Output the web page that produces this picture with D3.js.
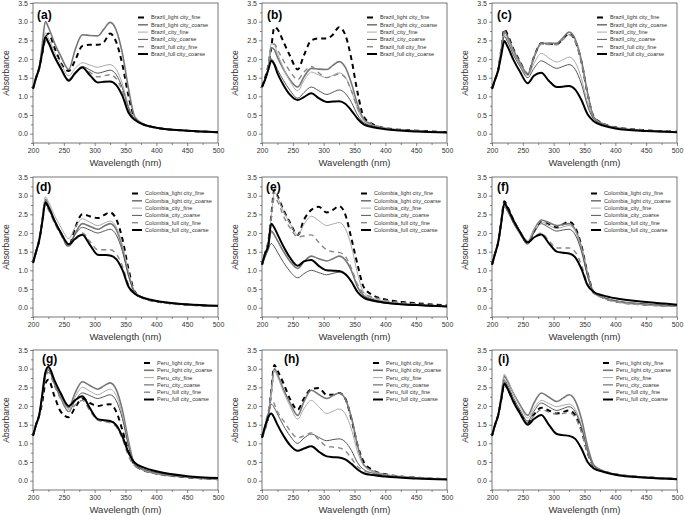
<!DOCTYPE html>
<html>
<head>
<meta charset="utf-8">
<script src="https://cdn.jsdelivr.net/npm/d3@7"></script>
<style>
  body { margin: 0; background: #fff; }
  text { font-family: "Liberation Sans", Arial, sans-serif; }
</style>
</head>
<body>
<div id="chart"></div>
<script>
// wavelength grid shared by every spectrum
const wavelengths = [200, 205, 210, 215, 220, 225, 235, 245, 258, 268, 280, 292, 305, 315, 325, 335, 345, 355, 365, 380, 400, 450, 500];
const countries = ['Brazil', 'Colombia', 'Peru'];
const seriesSuffix = ['_light city_fine', '_light city_coarse', '_city_fine', '_city_coarse', '_full city_fine', '_full city_coarse'];
const panelLabels = ['(a)', '(b)', '(c)', '(d)', '(e)', '(f)', '(g)', '(h)', '(i)'];
const xTicks = [200, 250, 300, 350, 400, 450, 500];
const yTicks = [0, 0.5, 1, 1.5, 2, 2.5, 3, 3.5];

// absorbance, one row per series (same order as seriesSuffix)
const panelA = [
    [1.2, 1.5, 1.75, 2.15, 2.55, 2.68, 2.3, 1.9, 1.68, 1.95, 2.35, 2.38, 2.38, 2.45, 2.68, 2.45, 1.85, 1.0, 0.42, 0.24, 0.16, 0.08, 0.04],
    [1.2, 1.5, 1.75, 2.38, 3.0, 2.85, 2.42, 2.08, 1.72, 2.23, 2.65, 2.63, 2.62, 2.8, 2.98, 2.77, 2.15, 1.19, 0.45, 0.25, 0.16, 0.08, 0.04],
    [1.2, 1.5, 1.75, 2.23, 2.7, 2.56, 2.18, 1.87, 1.55, 1.74, 1.9, 1.84, 1.78, 1.82, 1.85, 1.72, 1.33, 0.74, 0.39, 0.24, 0.16, 0.08, 0.04],
    [1.2, 1.5, 1.75, 2.18, 2.6, 2.46, 2.08, 1.77, 1.45, 1.64, 1.8, 1.71, 1.62, 1.66, 1.7, 1.58, 1.22, 0.68, 0.38, 0.24, 0.16, 0.08, 0.04],
    [1.2, 1.5, 1.75, 2.15, 2.55, 2.42, 2.06, 1.76, 1.45, 1.63, 1.78, 1.65, 1.52, 1.55, 1.58, 1.47, 1.14, 0.63, 0.38, 0.24, 0.16, 0.08, 0.04],
    [1.2, 1.5, 1.75, 2.17, 2.58, 2.44, 2.06, 1.75, 1.42, 1.61, 1.77, 1.57, 1.37, 1.39, 1.4, 1.3, 1.01, 0.56, 0.37, 0.24, 0.16, 0.08, 0.04],
];
const panelB = [
    [1.25, 1.5, 1.8, 2.3, 2.85, 2.8, 2.45, 2.1, 1.72, 2.1, 2.5, 2.55, 2.55, 2.65, 2.85, 2.65, 2.0, 1.1, 0.45, 0.25, 0.15, 0.08, 0.04],
    [1.25, 1.45, 1.75, 2.3, 2.25, 2.05, 1.72, 1.45, 1.25, 1.52, 1.75, 1.73, 1.72, 1.83, 1.93, 1.78, 1.35, 0.78, 0.38, 0.22, 0.14, 0.07, 0.03],
    [1.25, 1.45, 1.75, 2.4, 2.38, 2.15, 1.75, 1.42, 1.15, 1.42, 1.65, 1.57, 1.5, 1.56, 1.63, 1.52, 1.15, 0.66, 0.35, 0.22, 0.14, 0.07, 0.03],
    [1.25, 1.45, 1.7, 2.0, 1.9, 1.72, 1.42, 1.17, 0.95, 1.1, 1.25, 1.15, 1.05, 1.11, 1.17, 1.08, 0.84, 0.5, 0.3, 0.2, 0.13, 0.07, 0.03],
    [1.25, 1.45, 1.75, 2.35, 2.4, 2.25, 1.95, 1.68, 1.45, 1.65, 1.8, 1.63, 1.5, 1.55, 1.6, 1.5, 1.15, 0.68, 0.4, 0.25, 0.15, 0.08, 0.04],
    [1.25, 1.45, 1.7, 1.95, 1.85, 1.62, 1.3, 1.05, 0.9, 0.98, 1.08, 0.95, 0.85, 0.86, 0.87, 0.8, 0.62, 0.4, 0.25, 0.17, 0.12, 0.06, 0.03],
];
const panelC = [
    [1.2, 1.45, 1.7, 2.25, 2.8, 2.66, 2.26, 1.94, 1.6, 2.05, 2.42, 2.41, 2.4, 2.54, 2.68, 2.49, 1.93, 1.07, 0.45, 0.27, 0.17, 0.09, 0.05],
    [1.2, 1.45, 1.7, 2.25, 2.75, 2.61, 2.23, 1.92, 1.6, 2.05, 2.42, 2.42, 2.42, 2.57, 2.72, 2.53, 1.96, 1.09, 0.44, 0.26, 0.16, 0.08, 0.04],
    [1.2, 1.45, 1.7, 2.2, 2.65, 2.52, 2.16, 1.86, 1.55, 1.88, 2.15, 2.03, 1.92, 1.98, 2.05, 1.91, 1.48, 0.82, 0.4, 0.25, 0.16, 0.08, 0.04],
    [1.2, 1.45, 1.7, 2.18, 2.6, 2.47, 2.1, 1.81, 1.5, 1.75, 1.95, 1.85, 1.75, 1.8, 1.85, 1.72, 1.33, 0.74, 0.39, 0.25, 0.16, 0.08, 0.04],
    [1.2, 1.45, 1.7, 2.22, 2.7, 2.57, 2.2, 1.89, 1.58, 2.03, 2.4, 2.39, 2.38, 2.52, 2.65, 2.46, 1.91, 1.06, 0.43, 0.27, 0.17, 0.09, 0.05],
    [1.2, 1.45, 1.7, 2.1, 2.48, 2.34, 1.97, 1.67, 1.35, 1.55, 1.63, 1.42, 1.25, 1.26, 1.28, 1.18, 0.9, 0.52, 0.33, 0.22, 0.14, 0.07, 0.04],
];
const panelD = [
    [1.2, 1.5, 1.8, 2.3, 2.85, 2.71, 2.31, 1.99, 1.65, 2.12, 2.5, 2.45, 2.4, 2.48, 2.55, 2.37, 1.84, 1.02, 0.43, 0.25, 0.17, 0.08, 0.04],
    [1.2, 1.5, 1.8, 2.33, 2.9, 2.75, 2.34, 2.0, 1.65, 1.98, 2.25, 2.18, 2.1, 2.18, 2.25, 2.09, 1.62, 0.9, 0.41, 0.25, 0.17, 0.08, 0.04],
    [1.2, 1.5, 1.8, 2.36, 2.97, 2.84, 2.47, 2.16, 1.85, 2.14, 2.38, 2.29, 2.2, 2.26, 2.32, 2.16, 1.67, 0.93, 0.42, 0.25, 0.17, 0.08, 0.04],
    [1.2, 1.5, 1.8, 2.28, 2.8, 2.67, 2.31, 2.01, 1.7, 1.95, 2.15, 2.08, 2.0, 2.05, 2.1, 1.95, 1.51, 0.84, 0.41, 0.25, 0.17, 0.08, 0.04],
    [1.2, 1.5, 1.8, 2.25, 2.75, 2.62, 2.26, 1.96, 1.65, 1.84, 2.0, 1.78, 1.55, 1.55, 1.55, 1.44, 1.12, 0.62, 0.38, 0.25, 0.17, 0.08, 0.04],
    [1.2, 1.5, 1.8, 2.29, 2.82, 2.69, 2.32, 2.01, 1.7, 1.84, 1.95, 1.69, 1.42, 1.41, 1.4, 1.3, 1.01, 0.56, 0.37, 0.26, 0.18, 0.09, 0.05],
];
const panelE = [
    [1.15, 1.45, 1.75, 2.45, 3.15, 3.0, 2.61, 2.29, 1.95, 2.35, 2.62, 2.7, 2.55, 2.62, 2.72, 2.5, 1.85, 1.15, 0.55, 0.33, 0.22, 0.12, 0.06],
    [1.15, 1.4, 1.6, 2.05, 1.95, 1.8, 1.5, 1.25, 1.05, 1.23, 1.38, 1.31, 1.25, 1.31, 1.38, 1.28, 0.99, 0.55, 0.32, 0.22, 0.15, 0.07, 0.03],
    [1.15, 1.45, 1.75, 2.43, 3.1, 2.96, 2.58, 2.27, 1.95, 2.23, 2.45, 2.33, 2.2, 2.24, 2.28, 2.12, 1.64, 0.91, 0.41, 0.25, 0.17, 0.08, 0.04],
    [1.15, 1.35, 1.55, 1.72, 1.63, 1.49, 1.21, 0.98, 0.8, 0.91, 1.0, 0.94, 0.88, 0.92, 0.95, 0.88, 0.68, 0.4, 0.25, 0.17, 0.12, 0.06, 0.03],
    [1.15, 1.45, 1.75, 2.4, 2.95, 2.85, 2.45, 2.15, 1.9, 1.92, 1.95, 1.75, 1.55, 1.5, 1.48, 1.38, 1.05, 0.62, 0.38, 0.28, 0.2, 0.1, 0.05],
    [1.15, 1.45, 1.65, 2.25, 2.14, 1.97, 1.63, 1.35, 1.12, 1.24, 1.28, 1.12, 1.0, 0.99, 0.98, 0.9, 0.7, 0.42, 0.27, 0.19, 0.13, 0.07, 0.03],
];
const panelF = [
    [1.15, 1.45, 1.75, 2.3, 2.85, 2.71, 2.34, 2.04, 1.72, 2.04, 2.3, 2.23, 2.15, 2.23, 2.3, 2.14, 1.66, 0.92, 0.42, 0.27, 0.17, 0.08, 0.04],
    [1.15, 1.45, 1.75, 2.28, 2.8, 2.67, 2.33, 2.04, 1.75, 2.08, 2.35, 2.28, 2.2, 2.23, 2.25, 2.09, 1.62, 0.9, 0.41, 0.27, 0.17, 0.08, 0.04],
    [1.15, 1.45, 1.75, 2.25, 2.75, 2.64, 2.32, 2.07, 1.8, 2.08, 2.3, 2.21, 2.12, 2.16, 2.2, 2.05, 1.58, 0.88, 0.41, 0.26, 0.16, 0.07, 0.03],
    [1.15, 1.45, 1.75, 2.23, 2.7, 2.58, 2.25, 1.98, 1.7, 2.0, 2.25, 2.15, 2.05, 2.08, 2.1, 1.95, 1.51, 0.84, 0.41, 0.28, 0.19, 0.1, 0.05],
    [1.15, 1.45, 1.75, 2.25, 2.75, 2.63, 2.3, 2.03, 1.75, 1.89, 2.0, 1.8, 1.6, 1.6, 1.6, 1.49, 1.15, 0.64, 0.38, 0.27, 0.18, 0.09, 0.04],
    [1.15, 1.45, 1.75, 2.28, 2.8, 2.67, 2.33, 2.04, 1.75, 1.88, 1.96, 1.73, 1.5, 1.47, 1.45, 1.35, 1.04, 0.6, 0.42, 0.33, 0.25, 0.15, 0.08],
];
const panelG = [
    [1.2, 1.5, 1.75, 2.1, 2.6, 2.7, 2.25, 1.85, 1.7, 1.95, 2.2, 2.08, 2.0, 2.03, 2.05, 1.85, 1.35, 0.78, 0.42, 0.28, 0.19, 0.09, 0.04],
    [1.2, 1.5, 1.75, 2.3, 2.85, 3.0, 2.63, 2.29, 1.95, 2.34, 2.65, 2.55, 2.45, 2.54, 2.62, 2.44, 1.89, 1.05, 0.43, 0.28, 0.19, 0.09, 0.04],
    [1.2, 1.5, 1.75, 2.3, 2.85, 3.0, 2.62, 2.25, 1.9, 2.23, 2.5, 2.4, 2.3, 2.38, 2.45, 2.28, 1.76, 0.98, 0.42, 0.28, 0.2, 0.1, 0.04],
    [1.2, 1.5, 1.75, 2.25, 2.8, 2.95, 2.57, 2.2, 1.85, 2.13, 2.35, 2.28, 2.2, 2.25, 2.3, 2.14, 1.66, 0.92, 0.42, 0.3, 0.22, 0.11, 0.05],
    [1.2, 1.5, 1.75, 2.22, 2.75, 2.9, 2.53, 2.19, 1.85, 2.02, 2.15, 1.88, 1.62, 1.58, 1.55, 1.44, 1.12, 0.65, 0.4, 0.28, 0.19, 0.09, 0.04],
    [1.2, 1.5, 1.75, 2.3, 2.9, 3.05, 2.68, 2.34, 2.0, 2.15, 2.26, 1.95, 1.65, 1.62, 1.6, 1.49, 1.18, 0.75, 0.48, 0.35, 0.25, 0.12, 0.07],
];
const panelH = [
    [1.15, 1.4, 1.7, 2.4, 3.1, 2.95, 2.6, 2.2, 1.9, 2.2, 2.45, 2.48, 2.3, 2.3, 2.35, 2.2, 1.65, 0.95, 0.5, 0.28, 0.17, 0.08, 0.04],
    [1.15, 1.4, 1.7, 2.38, 3.0, 2.85, 2.44, 2.1, 1.75, 2.12, 2.42, 2.31, 2.2, 2.28, 2.35, 2.19, 1.69, 0.94, 0.42, 0.25, 0.16, 0.08, 0.04],
    [1.15, 1.4, 1.7, 2.35, 2.95, 2.79, 2.37, 2.01, 1.65, 1.93, 2.15, 1.98, 1.8, 1.86, 1.92, 1.79, 1.38, 0.77, 0.4, 0.25, 0.16, 0.08, 0.04],
    [1.15, 1.5, 1.8, 2.05, 1.95, 1.79, 1.47, 1.21, 1.0, 1.14, 1.25, 1.16, 1.07, 1.1, 1.12, 1.04, 0.81, 0.48, 0.3, 0.2, 0.14, 0.07, 0.03],
    [1.15, 1.5, 1.85, 2.2, 2.05, 1.85, 1.6, 1.35, 1.15, 1.2, 1.28, 1.1, 0.92, 0.9, 0.88, 0.8, 0.6, 0.38, 0.27, 0.2, 0.15, 0.08, 0.04],
    [1.15, 1.45, 1.7, 1.8, 1.68, 1.5, 1.2, 0.96, 0.8, 0.86, 0.92, 0.78, 0.65, 0.63, 0.62, 0.57, 0.45, 0.3, 0.2, 0.15, 0.11, 0.06, 0.03],
];
const panelI = [
    [1.2, 1.5, 1.75, 2.18, 2.6, 2.47, 2.13, 1.84, 1.55, 1.77, 1.95, 1.88, 1.8, 1.84, 1.88, 1.75, 1.35, 0.75, 0.39, 0.26, 0.17, 0.09, 0.05],
    [1.2, 1.5, 1.75, 2.28, 2.8, 2.67, 2.33, 2.04, 1.75, 2.08, 2.35, 2.24, 2.12, 2.21, 2.3, 2.14, 1.66, 0.92, 0.42, 0.26, 0.17, 0.09, 0.05],
    [1.2, 1.5, 1.75, 2.3, 2.85, 2.71, 2.32, 2.01, 1.68, 1.94, 2.15, 2.07, 1.98, 2.02, 2.05, 1.91, 1.48, 0.82, 0.4, 0.26, 0.17, 0.09, 0.05],
    [1.2, 1.5, 1.75, 2.23, 2.7, 2.57, 2.21, 1.91, 1.6, 1.86, 2.08, 1.98, 1.88, 1.93, 1.98, 1.84, 1.43, 0.79, 0.4, 0.26, 0.17, 0.09, 0.05],
    [1.2, 1.5, 1.75, 2.2, 2.65, 2.52, 2.16, 1.86, 1.55, 1.74, 1.9, 1.84, 1.78, 1.8, 1.82, 1.69, 1.31, 0.73, 0.39, 0.27, 0.18, 0.1, 0.05],
    [1.2, 1.5, 1.75, 2.18, 2.6, 2.47, 2.1, 1.81, 1.5, 1.65, 1.76, 1.5, 1.25, 1.22, 1.2, 1.12, 0.86, 0.5, 0.33, 0.24, 0.16, 0.08, 0.04],
];
const panels = [panelA, panelB, panelC, panelD, panelE, panelF, panelG, panelH, panelI];

// line styles, same order as seriesSuffix
const lineStyles = [
    { color: '#000', width: 2, dash: '5,4' },
    { color: '#777', width: 1.6, dash: null },
    { color: '#aaa', width: 1, dash: null },
    { color: '#555', width: 1, dash: null },
    { color: '#888', width: 1.4, dash: '5,4' },
    { color: '#000', width: 2, dash: null },
];

// layout
const colX = [33, 262, 492];
const rowY = [3, 177, 350];
const plotW = 185;
const plotH = 140;
const labelDx = [4, 5, 5, 3, 4, 5, 9, 22, 6];
const labelDy = [16, 14, 12.5];
const legendTextX = [118, 112, 124];
const legendTop = [14.5, 16.5, 13];
const legendStep = 7.3;

const svg = d3.select('#chart')
    .append('svg')
    .attr('width', 685)
    .attr('height', 515);

const x = d3.scaleLinear().domain([200, 500]).range([0, plotW]);
const y = d3.scaleLinear().domain([-0.25, 3.5]).range([plotH, 0]);

const line = d3.line()
    .x((d, i) => x(wavelengths[i]))
    .y(d => y(d))
    .curve(d3.curveMonotoneX);

panels.forEach((panel, p) => {
    const row = Math.floor(p / 3);
    const col = p % 3;
    const country = countries[row];
    const g = svg.append('g')
        .attr('transform', 'translate(' + colX[col] + ',' + rowY[row] + ')');

    // minor ticks
    g.append('g')
        .attr('transform', 'translate(0,' + plotH + ')')
        .call(d3.axisBottom(x).tickValues(d3.range(225, 500, 50)).tickSize(2).tickFormat(''))
        .call(a => a.select('.domain').remove());
    g.append('g')
        .call(d3.axisLeft(y).tickValues(d3.range(-0.25, 3.5, 0.5)).tickSize(2).tickFormat(''))
        .call(a => a.select('.domain').remove());

    const xAxis = g.append('g')
        .attr('transform', 'translate(0,' + plotH + ')')
        .call(d3.axisBottom(x).tickValues(xTicks).tickSize(3).tickPadding(2));
    const yAxis = g.append('g')
        .call(d3.axisLeft(y).tickValues(yTicks).tickSize(3).tickPadding(2).tickFormat(d3.format('.1f')));

    [xAxis, yAxis].forEach(a => {
        a.selectAll('text').attr('font-size', 7).attr('fill', '#333');
        a.select('.domain').remove();
    });
    g.selectAll('.tick line').attr('stroke', '#555').attr('stroke-width', 0.7);

    g.append('rect')
        .attr('width', plotW)
        .attr('height', plotH)
        .attr('fill', 'none')
        .attr('stroke', '#555')
        .attr('stroke-width', 0.8);

    // spectra
    panel.forEach((values, s) => {
        const st = lineStyles[s];
        g.append('path')
            .datum(values)
            .attr('d', line)
            .attr('fill', 'none')
            .attr('stroke', st.color)
            .attr('stroke-width', st.width)
            .attr('stroke-dasharray', st.dash);
    });

    // axis titles
    g.append('text')
        .attr('x', plotW / 2)
        .attr('y', plotH + 23)
        .attr('text-anchor', 'middle')
        .attr('font-size', 9.5)
        .attr('fill', '#333')
        .text('Wavelength (nm)');
    g.append('text')
        .attr('transform', 'translate(-24,' + (plotH / 2) + ') rotate(-90)')
        .attr('text-anchor', 'middle')
        .attr('font-size', 8.5)
        .attr('fill', '#333')
        .text('Absorbance');

    // panel label
    g.append('text')
        .attr('x', labelDx[p])
        .attr('y', labelDy[row])
        .attr('font-size', 12)
        .attr('font-weight', 'bold')
        .text(panelLabels[p]);

    // legend
    const lg = g.append('g');
    seriesSuffix.forEach((suffix, s) => {
        const st = lineStyles[s];
        const ly = legendTop[row] + s * legendStep;
        const tx = legendTextX[row];
        lg.append('line')
            .attr('x1', tx - 13)
            .attr('x2', tx - 3)
            .attr('y1', ly)
            .attr('y2', ly)
            .attr('stroke', st.color)
            .attr('stroke-width', st.width)
            .attr('stroke-dasharray', st.dash ? '6,4' : null);
        lg.append('text')
            .attr('x', tx)
            .attr('y', ly + 1.9)
            .attr('font-size', 5.6)
            .attr('fill', '#333')
            .text(country + suffix);
    });
});
</script>
</body>
</html>
